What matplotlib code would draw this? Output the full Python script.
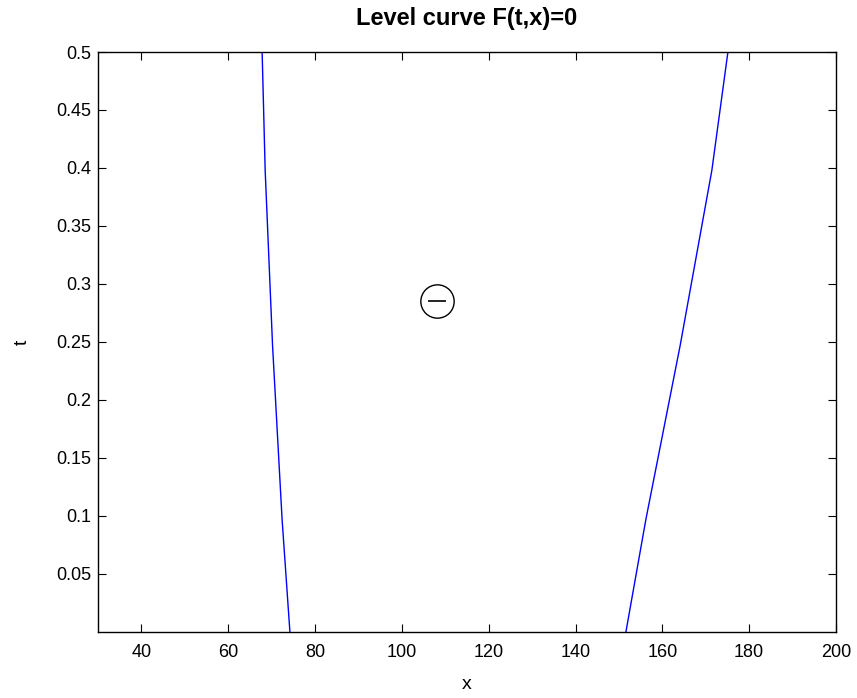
import matplotlib
matplotlib.use('Agg')
import matplotlib.pyplot as plt

plt.rcParams['font.family'] = ['Liberation Sans', 'DejaVu Sans']

# Level curve points
t_vals = [0.0, 0.097, 0.247, 0.398, 0.5]
x_left = [74.2, 72.4, 70.2, 68.5, 67.8]
x_right = [151.6, 156.2, 164.1, 171.4, 175.1]

# Sign marker
sign_x = 108.1
sign_t = 0.285

x_ticks = [40, 60, 80, 100, 120, 140, 160, 180, 200]
t_ticks = [0.05, 0.1, 0.15, 0.2, 0.25, 0.3, 0.35, 0.4, 0.45, 0.5]

fig = plt.figure(figsize=(8.57, 6.98), dpi=100)
ax = fig.add_axes([0.1144, 0.0946, 0.9755 - 0.1144, 0.9255 - 0.0946])

ax.plot(x_left, t_vals, color='#0000ff', linewidth=1.0)
ax.plot(x_right, t_vals, color='#0000ff', linewidth=1.0)

ax.plot([sign_x], [sign_t], marker='o', markersize=24, markerfacecolor='none',
        markeredgecolor='black', markeredgewidth=1.0, linestyle='none')
ax.plot([sign_x], [sign_t], marker='_', markersize=13, markeredgecolor='black',
        markeredgewidth=1.2, linestyle='none')

ax.set_xlim(30, 200)
ax.set_ylim(0, 0.5)
ax.set_xticks(x_ticks)
ax.set_yticks(t_ticks)
ax.set_yticklabels(['%g' % v for v in t_ticks])
ax.tick_params(direction='in', top=True, right=True, length=6, labelsize=13)
ax.tick_params(axis='x', pad=9)
ax.tick_params(axis='y', pad=5)

for spine in ax.spines.values():
    spine.set_linewidth(1.0)

ax.set_xlabel('x', fontsize=14)
ax.set_ylabel('t', fontsize=14)
ax.xaxis.set_label_coords(0.5, -0.076)
ax.yaxis.set_label_coords(-0.091, 0.5)

fig.text(0.545, 1 - 19 / 698, 'Level curve F(t,x)=0', fontsize=17,
         fontweight='bold', ha='center', va='center')

fig.savefig('out.png', dpi=100)
